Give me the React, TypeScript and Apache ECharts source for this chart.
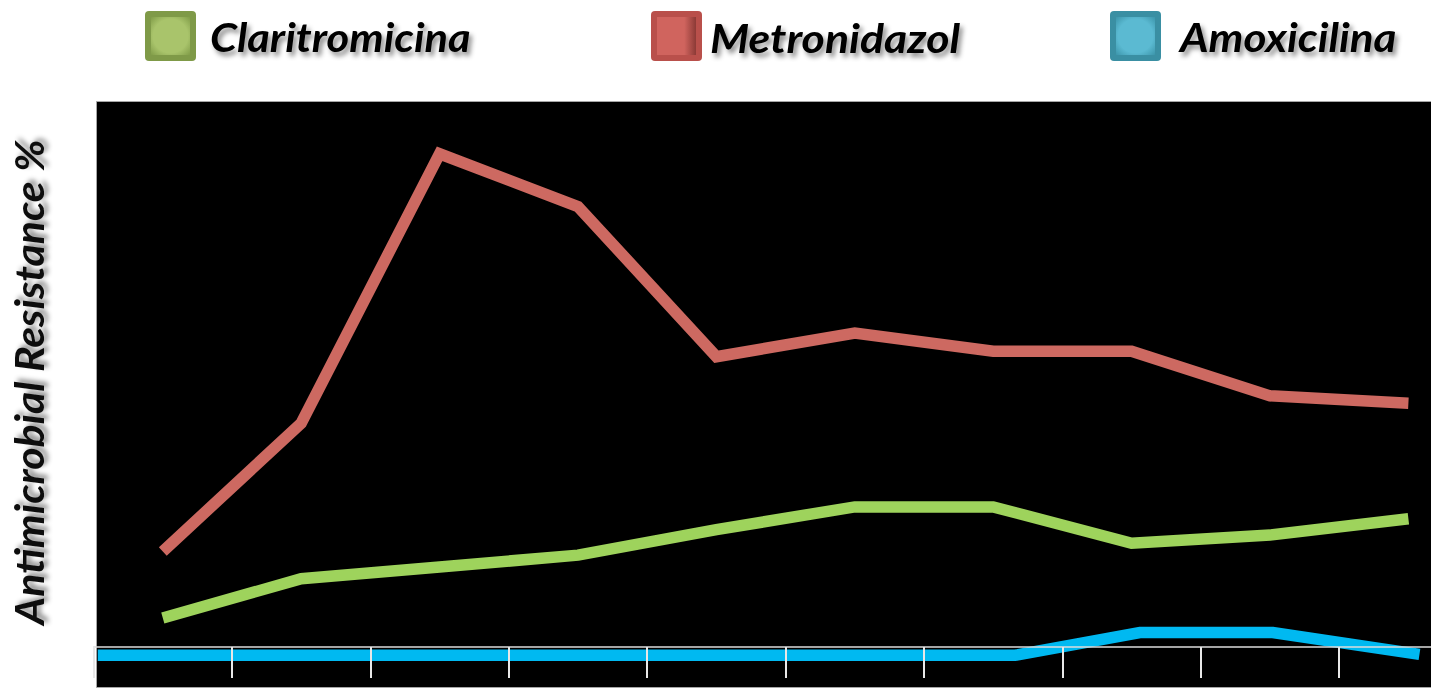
import React, { useEffect, useRef } from "react";
import * as echarts from "echarts";

// Survey periods (labels are not printed on the axis)
const periods = ["1", "2", "3", "4", "5", "6", "7", "8", "9", "10"];
const seriesNames = ["Claritromicina", "Metronidazol", "Amoxicilina"];

// Resistance rates, %
const claritromicina = [3.2, 7.5, 8.8, 10.1, 12.9, 15.4, 15.4, 11.4, 12.3, 14.1];
const metronidazol = [10.5, 24.6, 54.2, 48.4, 31.9, 34.5, 32.5, 32.5, 27.6, 26.8];
// Amoxicilina is sampled on its own period positions
const amoxicilinaX = [-0.47, 6.16, 7.06, 8.02, 9.08];
const amoxicilinaY = [-0.9, -0.9, 1.6, 1.6, -0.8];

const yAxisTitle = "Antimicrobial Resistance %";

const lineColors = ["#9ED35C", "#CD6961", "#00B9F1"];

const iconColors = [
  { outer: "#7F9A48", light: "#A9C46B", dark: "#7E9A46" },
  { outer: "#B9504B", light: "#D0645E", dark: "#8C3A36" },
  { outer: "#3A8FA3", light: "#5BBAD2", dark: "#3A93A8" },
];

const legendIconX = [145, 651, 1110];
const legendTextX = [210, 710, 1180];
const legendTextScale = [1.085, 1.115, 1.1];

const textFont = {
  fontFamily: "Lato, 'Open Sans', sans-serif",
  fontWeight: "bold" as const,
  fontStyle: "italic" as const,
};

const textShadow = {
  textShadowColor: "rgba(0,0,0,0.45)",
  textShadowBlur: 5,
  textShadowOffsetX: 3,
  textShadowOffsetY: 4,
};

function legendItem(i: number) {
  const c = iconColors[i];
  const inner =
    i === 1
      ? new echarts.graphic.LinearGradient(0, 0, 1, 0, [
          { offset: 0, color: c.light },
          { offset: 0.7, color: c.light },
          { offset: 1, color: c.dark },
        ])
      : new echarts.graphic.RadialGradient(0.5, 0.5, 0.72, [
          { offset: 0, color: c.light },
          { offset: 0.62, color: c.light },
          { offset: 1, color: c.dark },
        ]);
  return [
    {
      type: "rect",
      x: legendIconX[i],
      y: 11,
      shape: { x: 0, y: 0, width: 51, height: 50, r: 4 },
      style: { fill: c.outer },
      z: 5,
    },
    {
      type: "rect",
      x: legendIconX[i],
      y: 11,
      shape: { x: 6, y: 6, width: 39, height: 38 },
      style: { fill: inner },
      z: 6,
    },
    {
      type: "text",
      x: legendTextX[i],
      y: 37,
      scaleX: legendTextScale[i],
      style: {
        text: seriesNames[i],
        ...textFont,
        fontSize: 40,
        fill: "#000",
        align: "left",
        verticalAlign: "middle",
        ...textShadow,
      },
      z: 6,
    },
  ];
}

export default function App() {
  const ref = useRef<HTMLDivElement>(null);

  useEffect(() => {
    if (!ref.current) return;
    const chart = echarts.init(ref.current, null, { renderer: "svg" });

    chart.setOption({
      animation: false,
      backgroundColor: "#ffffff",
      grid: { left: 93.6, top: 101, width: 1384, height: 587, containLabel: false },
      xAxis: [
        {
          type: "category",
          data: periods,
          boundaryGap: true,
          z: 10,
          axisLine: { show: true, onZero: true, lineStyle: { color: "#dcdcdc", width: 1.5 } },
          axisTick: { show: true, length: 31, lineStyle: { color: "#e8e8e8", width: 2 } },
          axisLabel: { show: false },
          splitLine: { show: false },
        },
        {
          type: "value",
          min: -0.5,
          max: 9.5,
          show: false,
          splitLine: { show: false },
        },
      ],
      yAxis: {
        type: "value",
        min: -4.5,
        max: 60,
        show: false,
        splitLine: { show: false },
      },
      series: [
        {
          name: seriesNames[0],
          type: "line",
          xAxisIndex: 0,
          data: claritromicina,
          showSymbol: false,
          symbol: "none",
          lineStyle: { color: lineColors[0], width: 11.5, join: "miter", cap: "butt" },
          z: 3,
        },
        {
          name: seriesNames[1],
          type: "line",
          xAxisIndex: 0,
          data: metronidazol,
          showSymbol: false,
          symbol: "none",
          lineStyle: { color: lineColors[1], width: 11.5, join: "miter", cap: "butt" },
          z: 3,
        },
        {
          name: seriesNames[2],
          type: "line",
          xAxisIndex: 1,
          data: amoxicilinaX.map((x, i) => [x, amoxicilinaY[i]]),
          showSymbol: false,
          symbol: "none",
          lineStyle: { color: lineColors[2], width: 11.5, join: "miter", cap: "butt" },
          z: 2,
        },
      ],
      graphic: [
        {
          type: "rect",
          x: 96.5,
          y: 101.5,
          shape: { x: 0, y: 0, width: 1400, height: 586 },
          style: { fill: "#000000", stroke: "#a6a6a6", lineWidth: 1 },
          z: -1,
          silent: true,
        },
        ...legendItem(0),
        ...legendItem(1),
        ...legendItem(2),
        {
          type: "text",
          x: 29,
          y: 382,
          rotation: Math.PI / 2,
          scaleX: 1.07,
          style: {
            text: yAxisTitle,
            ...textFont,
            fontSize: 40,
            fill: "#111",
            align: "center",
            verticalAlign: "middle",
            ...textShadow,
          },
          z: 6,
        },
      ],
    });

    return () => chart.dispose();
  }, []);

  return (
    <div
      ref={ref}
      style={{ position: "fixed", left: 0, top: 0, width: 1500, height: 692, background: "#fff" }}
    />
  );
}
